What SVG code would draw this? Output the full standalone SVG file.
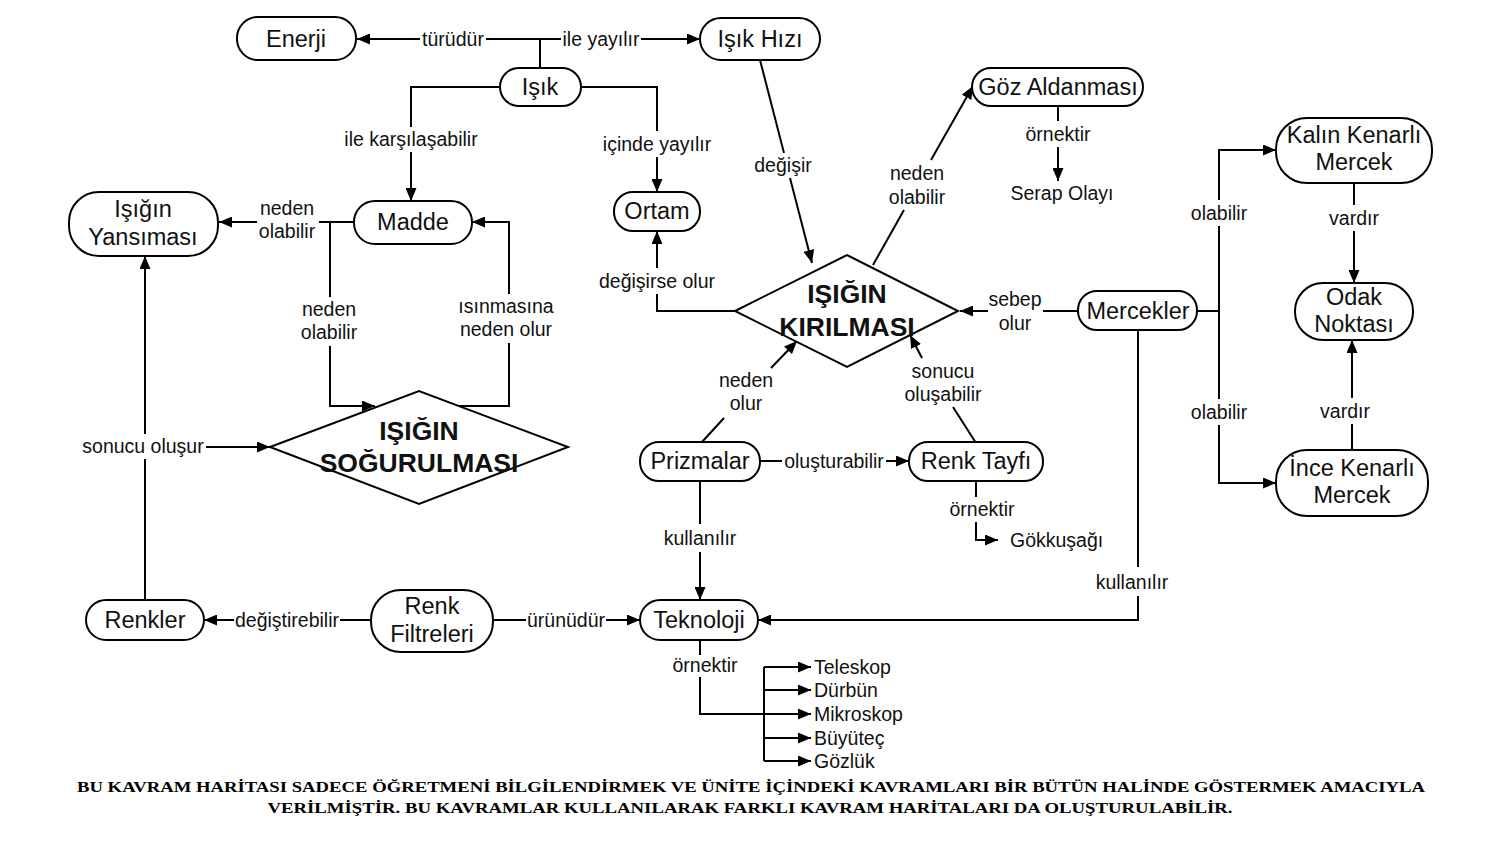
<svg xmlns="http://www.w3.org/2000/svg" width="1488" height="842" viewBox="0 0 1488 842">
<style>
.n rect,.n polygon{fill:#fff;stroke:#000;stroke-width:2}
.nt{font-family:"Liberation Sans",Arial,sans-serif;font-size:23.5px;text-anchor:middle;dominant-baseline:central;fill:#111}
.dt{font-family:"Liberation Sans",Arial,sans-serif;font-size:26.5px;font-weight:bold;text-anchor:middle;dominant-baseline:central;fill:#111}
.lb{font-family:"Liberation Sans",Arial,sans-serif;font-size:19.5px;text-anchor:middle;dominant-baseline:central;fill:#111}
.ls{font-family:"Liberation Sans",Arial,sans-serif;font-size:19.5px;text-anchor:start;dominant-baseline:central;fill:#111}
.c path{fill:none;stroke:#000;stroke-width:2}
.ft{font-family:"Liberation Serif","Times New Roman",serif;font-size:15.5px;font-weight:bold;text-anchor:middle;fill:#000}
</style>
<defs>
<marker id="ah" markerUnits="userSpaceOnUse" markerWidth="13" markerHeight="11" refX="13" refY="5.5" orient="auto">
<path d="M0,0 L13,5.5 L0,11 z" fill="#000"/>
</marker>
</defs>

<g id="connectors" class="c">
<!-- Işık to Enerji / Işık Hızı -->
<path d="M540,68 V39 H486"/>
<path d="M420,39 H357" marker-end="url(#ah)"/>
<path d="M540,39 H561"/>
<path d="M641,39 H700" marker-end="url(#ah)"/>
<!-- Işık to Madde -->
<path d="M500,87 H411 V127"/>
<path d="M411,152 V201" marker-end="url(#ah)"/>
<!-- Işık to Ortam -->
<path d="M581,87 H657 V131"/>
<path d="M657,157 V192" marker-end="url(#ah)"/>
<!-- Işık Hızı to Kırılması -->
<path d="M760,60 L784,153"/>
<path d="M790,178 L812,263" marker-end="url(#ah)"/>
<!-- Kırılması to Göz Aldanması -->
<path d="M873,265 L904,210"/>
<path d="M931,160 L973,86" marker-end="url(#ah)"/>
<!-- Göz to Serap -->
<path d="M1058,106 V121"/>
<path d="M1058,147 V181" marker-end="url(#ah)"/>
<!-- Kırılması to Ortam -->
<path d="M735,311 H657 V294"/>
<path d="M657,268 V231" marker-end="url(#ah)"/>
<!-- Mercekler to Kırılması -->
<path d="M1078,311 H1043"/>
<path d="M988,311 H960" marker-end="url(#ah)"/>
<!-- Prizmalar to Kırılması -->
<path d="M702,442 L724,418"/>
<path d="M771,368 L797,341" marker-end="url(#ah)"/>
<!-- Renk Tayfı to Kırılması -->
<path d="M976,443 L953,407"/>
<path d="M922,358 L910,335" marker-end="url(#ah)"/>
<!-- Prizmalar to Renk Tayfı -->
<path d="M760,461 H782"/>
<path d="M886,461 H909" marker-end="url(#ah)"/>
<!-- Renk Tayfı to Gökkuşağı -->
<path d="M976,481 V497"/>
<path d="M976,522 V540 H998" marker-end="url(#ah)"/>
<!-- Prizmalar to Teknoloji -->
<path d="M700,481 V524"/>
<path d="M700,552 V600" marker-end="url(#ah)"/>
<!-- Mercekler to Teknoloji -->
<path d="M1138,330 V567"/>
<path d="M1138,596 V620 H758" marker-end="url(#ah)"/>
<!-- Mercekler to lenses -->
<path d="M1197,311 H1219"/>
<path d="M1219,200 V150 H1276" marker-end="url(#ah)"/>
<path d="M1219,226 V399"/>
<path d="M1219,425 V483 H1276" marker-end="url(#ah)"/>
<!-- Kalın to Odak -->
<path d="M1354,183 V205"/>
<path d="M1354,231 V283" marker-end="url(#ah)"/>
<!-- İnce to Odak -->
<path d="M1352,450 V424"/>
<path d="M1352,398 V340" marker-end="url(#ah)"/>
<!-- Renk Filtreleri to Teknoloji -->
<path d="M493,620 H526"/>
<path d="M606,620 H640" marker-end="url(#ah)"/>
<!-- Renk Filtreleri to Renkler -->
<path d="M371,620 H340"/>
<path d="M234,620 H204" marker-end="url(#ah)"/>
<!-- Renkler to Yansıması / Soğurulması -->
<path d="M145,600 V459"/>
<path d="M145,434 V256" marker-end="url(#ah)"/>
<path d="M206,447 H270" marker-end="url(#ah)"/>
<!-- Madde to Yansıması -->
<path d="M354,222 H319"/>
<path d="M257,222 H219" marker-end="url(#ah)"/>
<!-- Madde to Soğurulması -->
<path d="M330,222 V297"/>
<path d="M330,346 V406 H375" marker-end="url(#ah)"/>
<!-- Soğurulması to Madde -->
<path d="M458,406 H509 V343"/>
<path d="M509,294 V222 H472" marker-end="url(#ah)"/>
<!-- Teknoloji to examples -->
<path d="M700,640 V655"/>
<path d="M700,677 V714 H764"/>
<path d="M764,667 V761"/>
<path d="M764,667 H811" marker-end="url(#ah)"/>
<path d="M764,690 H811" marker-end="url(#ah)"/>
<path d="M764,714 H811" marker-end="url(#ah)"/>
<path d="M764,738 H811" marker-end="url(#ah)"/>
<path d="M764,761 H811" marker-end="url(#ah)"/>
</g>

<g id="labels">
<text class="lb" x="453" y="39">türüdür</text>
<text class="lb" x="601" y="39">ile yayılır</text>
<text class="lb" x="411" y="139">ile karşılaşabilir</text>
<text class="lb" x="657" y="144">içinde yayılır</text>
<text class="lb" x="783" y="165">değişir</text>
<text class="lb" x="917" y="173">neden</text>
<text class="lb" x="917" y="197">olabilir</text>
<text class="lb" x="1058" y="134">örnektir</text>
<text class="lb" x="657" y="281">değişirse olur</text>
<text class="lb" x="1015" y="299">sebep</text>
<text class="lb" x="1015" y="323">olur</text>
<text class="lb" x="746" y="380">neden</text>
<text class="lb" x="746" y="403">olur</text>
<text class="lb" x="943" y="371">sonucu</text>
<text class="lb" x="943" y="394">oluşabilir</text>
<text class="lb" x="834" y="461">oluşturabilir</text>
<text class="lb" x="982" y="509">örnektir</text>
<text class="lb" x="700" y="538">kullanılır</text>
<text class="lb" x="1132" y="582">kullanılır</text>
<text class="lb" x="1219" y="213">olabilir</text>
<text class="lb" x="1219" y="412">olabilir</text>
<text class="lb" x="1354" y="218">vardır</text>
<text class="lb" x="1345" y="411">vardır</text>
<text class="lb" x="566" y="620">ürünüdür</text>
<text class="lb" x="287" y="620">değiştirebilir</text>
<text class="lb" x="143" y="446">sonucu oluşur</text>
<text class="lb" x="287" y="208">neden</text>
<text class="lb" x="287" y="231">olabilir</text>
<text class="lb" x="329" y="309">neden</text>
<text class="lb" x="329" y="332">olabilir</text>
<text class="lb" x="506" y="306">ısınmasına</text>
<text class="lb" x="506" y="329">neden olur</text>
<text class="lb" x="705" y="665">örnektir</text>
</g>

<g id="enerji" class="n"><rect x="237" y="17" width="119" height="43" rx="21"/><text class="nt" x="296" y="39">Enerji</text></g>
<g id="isik" class="n"><rect x="500" y="68" width="81" height="38" rx="19"/><text class="nt" x="540" y="87">Işık</text></g>
<g id="isik-hizi" class="n"><rect x="700" y="18" width="120" height="42" rx="21"/><text class="nt" x="760" y="39">Işık Hızı</text></g>
<g id="goz-aldanmasi" class="n"><rect x="972" y="68" width="171" height="38" rx="19"/><text class="nt" x="1058" y="87">Göz Aldanması</text></g>
<g id="serap-olayi"><text class="lb" x="1062" y="193">Serap Olayı</text></g>
<g id="ortam" class="n"><rect x="614" y="192" width="86" height="39" rx="19"/><text class="nt" x="657" y="211">Ortam</text></g>
<g id="madde" class="n"><rect x="354" y="201" width="118" height="43" rx="21"/><text class="nt" x="413" y="222">Madde</text></g>
<g id="isigin-yansimasi" class="n"><rect x="69" y="192" width="149" height="64" rx="30"/><text class="nt" x="143" y="209">Işığın</text><text class="nt" x="143" y="237">Yansıması</text></g>
<g id="isigin-kirilmasi" class="n"><polygon points="735,311 847,255 958,311 847,367"/><text class="dt" x="847" y="294">IŞIĞIN</text><text class="dt" x="847" y="327">KIRILMASI</text></g>
<g id="isigin-sogurulmasi" class="n"><polygon points="270,447 419,391 568,447 419,504"/><text class="dt" x="419" y="431">IŞIĞIN</text><text class="dt" x="419" y="463">SOĞURULMASI</text></g>
<g id="mercekler" class="n"><rect x="1078" y="291" width="119" height="39" rx="19"/><text class="nt" x="1138" y="311">Mercekler</text></g>
<g id="kalin-kenarli-mercek" class="n"><rect x="1276" y="118" width="156" height="65" rx="31"/><text class="nt" x="1354" y="135">Kalın Kenarlı</text><text class="nt" x="1354" y="162">Mercek</text></g>
<g id="odak-noktasi" class="n"><rect x="1295" y="283" width="118" height="57" rx="28"/><text class="nt" x="1354" y="297">Odak</text><text class="nt" x="1354" y="324">Noktası</text></g>
<g id="ince-kenarli-mercek" class="n"><rect x="1276" y="450" width="152" height="66" rx="31"/><text class="nt" x="1352" y="468">İnce Kenarlı</text><text class="nt" x="1352" y="495">Mercek</text></g>
<g id="prizmalar" class="n"><rect x="640" y="442" width="120" height="39" rx="19"/><text class="nt" x="700" y="461">Prizmalar</text></g>
<g id="renk-tayfi" class="n"><rect x="909" y="442" width="134" height="39" rx="19"/><text class="nt" x="976" y="461">Renk Tayfı</text></g>
<g id="gokkusagi"><text class="ls" x="1010" y="540">Gökkuşağı</text></g>
<g id="teknoloji" class="n"><rect x="640" y="600" width="118" height="40" rx="20"/><text class="nt" x="699" y="620">Teknoloji</text></g>
<g id="renk-filtreleri" class="n"><rect x="371" y="590" width="122" height="62" rx="30"/><text class="nt" x="432" y="606">Renk</text><text class="nt" x="432" y="634">Filtreleri</text></g>
<g id="renkler" class="n"><rect x="86" y="600" width="118" height="40" rx="20"/><text class="nt" x="145" y="620">Renkler</text></g>
<g id="ornekler">
<text class="ls" x="814" y="667">Teleskop</text>
<text class="ls" x="814" y="690">Dürbün</text>
<text class="ls" x="814" y="714">Mikroskop</text>
<text class="ls" x="814" y="738">Büyüteç</text>
<text class="ls" x="814" y="761">Gözlük</text>
</g>

<g id="footer">
<text class="ft" x="751" y="792" textLength="1348" lengthAdjust="spacingAndGlyphs">BU KAVRAM HARİTASI SADECE ÖĞRETMENİ BİLGİLENDİRMEK VE ÜNİTE İÇİNDEKİ KAVRAMLARI BİR BÜTÜN HALİNDE GÖSTERMEK AMACIYLA</text>
<text class="ft" x="750" y="813" textLength="965" lengthAdjust="spacingAndGlyphs">VERİLMİŞTİR. BU KAVRAMLAR KULLANILARAK FARKLI KAVRAM HARİTALARI DA OLUŞTURULABİLİR.</text>
</g>
</svg>
